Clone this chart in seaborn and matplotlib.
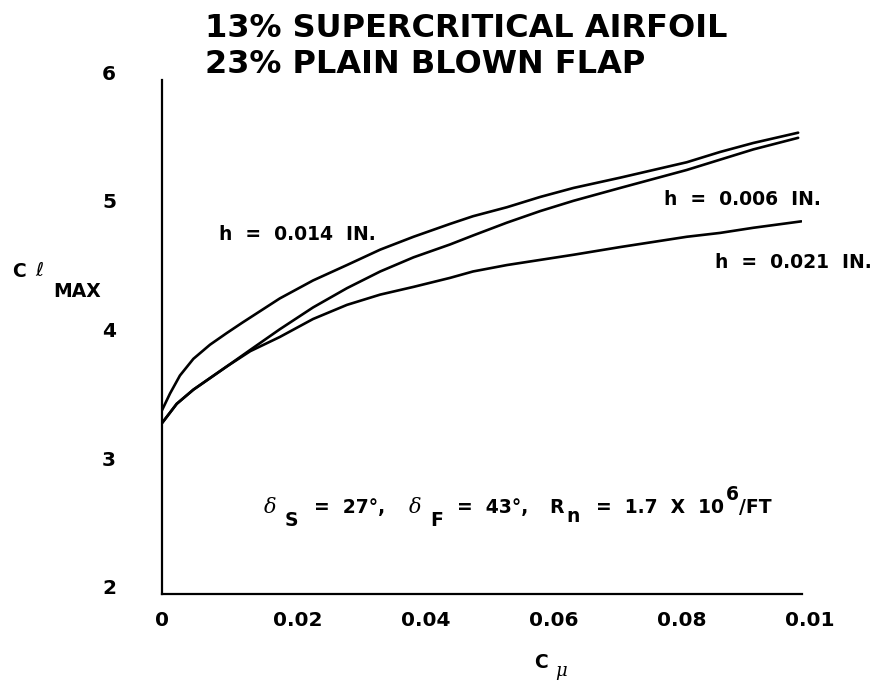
import numpy as np
import pandas as pd
import matplotlib
matplotlib.use("Agg")
import matplotlib.pyplot as plt
import matplotlib.transforms as mtrans
import seaborn as sns

# ---- data ----
x_h014 = [0, 0.00125, 0.0028, 0.0049, 0.0075, 0.0101, 0.0125, 0.0184, 0.0236, 0.0289, 0.0341,
          0.0393, 0.045, 0.0486, 0.0539, 0.0591, 0.0643, 0.0716, 0.0768, 0.082, 0.0872, 0.0924, 0.0994]
y_h014 = [3.43, 3.56, 3.70, 3.83, 3.94, 4.03, 4.11, 4.30, 4.44, 4.56, 4.68,
          4.78, 4.88, 4.94, 5.01, 5.09, 5.16, 5.24, 5.30, 5.36, 5.44, 5.51, 5.59]

x_h006 = [0, 0.0023, 0.0049, 0.0075, 0.0101, 0.0138, 0.0184, 0.0236, 0.0289, 0.0341, 0.0393,
          0.045, 0.0486, 0.0539, 0.0591, 0.0643, 0.0716, 0.0768, 0.082, 0.0872, 0.0924, 0.0994]
y_h006 = [3.33, 3.48, 3.59, 3.68, 3.77, 3.90, 4.06, 4.23, 4.38, 4.51, 4.62,
          4.72, 4.79, 4.89, 4.98, 5.06, 5.16, 5.23, 5.30, 5.38, 5.46, 5.55]

x_h021 = [0, 0.0023, 0.0049, 0.0075, 0.0101, 0.0138, 0.0184, 0.0236, 0.0289, 0.0341, 0.0393,
          0.045, 0.0486, 0.0539, 0.0591, 0.0643, 0.0716, 0.0768, 0.082, 0.0872, 0.0924, 0.0999]
y_h021 = [3.33, 3.48, 3.59, 3.68, 3.77, 3.89, 4.00, 4.14, 4.25, 4.33, 4.39,
          4.46, 4.51, 4.56, 4.60, 4.64, 4.70, 4.74, 4.78, 4.81, 4.85, 4.90]

x_ticks = [0, 0.02, 0.04, 0.06, 0.08, 0.1]
x_tick_labels = ["0", "0.02", "0.04", "0.06", "0.08", "0.01"]
y_ticks = [2, 3, 4, 5, 6]
y_tick_labels = ["2", "3", "4", "5", "6"]

title_lines = ["13% SUPERCRITICAL AIRFOIL", "23% PLAIN BLOWN FLAP"]

df = pd.concat([
    pd.DataFrame({"Cmu": x_h014, "Clmax": y_h014, "h": "0.014"}),
    pd.DataFrame({"Cmu": x_h006, "Clmax": y_h006, "h": "0.006"}),
    pd.DataFrame({"Cmu": x_h021, "Clmax": y_h021, "h": "0.021"}),
])

sns.set_theme(style="white")
plt.rcParams["font.family"] = ["DejaVu Sans"]

W, H = 878, 681
fig = plt.figure(figsize=(W / 100, H / 100), dpi=100)
ax = fig.add_axes([162 / W, 1 - 594 / H, (802 - 162) / W, (594 - 80) / H])

sns.lineplot(data=df, x="Cmu", y="Clmax", hue="h", units="h", estimator=None,
             palette={"0.014": "black", "0.006": "black", "0.021": "black"},
             linewidth=1.9, legend=False, ax=ax, sort=False)
for ln in ax.get_lines():
    ln.set_solid_joinstyle("round")
    ln.set_solid_capstyle("round")

ax.set_xlim(0, 0.1)
ax.set_ylim(2, 6)
for s in ["top", "right"]:
    ax.spines[s].set_visible(False)
for s in ["left", "bottom"]:
    ax.spines[s].set_color("black")
    ax.spines[s].set_linewidth(1.6)

ax.set_xticks(x_ticks)
ax.set_xticklabels(x_tick_labels, fontsize=14.5, fontweight="bold")
ax.set_yticks(y_ticks)
ax.set_yticklabels(y_tick_labels, fontsize=14.5, fontweight="bold", va="baseline")
ax.tick_params(axis="both", direction="in", length=4, width=1.2, color="black", labelcolor="black")
ax.tick_params(axis="x", pad=12)
ax.tick_params(axis="y", pad=33)
ax.set_xlabel("")
ax.set_ylabel("")

# shift "0.0x" tick labels slightly right like the reference
for lbl in ax.get_xticklabels()[1:]:
    lbl.set_transform(lbl.get_transform() + mtrans.ScaledTranslation(8 / 100, 0, fig.dpi_scale_trans))


def ftxt(px, py, s, **kw):
    kw.setdefault("color", "black")
    return fig.text(px / W, 1 - py / H, s, **kw)

# title
ftxt(205, 37, title_lines[0], fontsize=23, fontweight="bold", ha="left", va="baseline")
ftxt(205, 73, title_lines[1], fontsize=23, fontweight="bold", ha="left", va="baseline")

# y label  C ℓ MAX
ftxt(12, 277, "C", fontsize=13.5, fontweight="bold", ha="left", va="baseline")
ftxt(35, 276, r"$\ell$", fontsize=14, ha="left", va="baseline")
ftxt(53, 297, "MAX", fontsize=13.5, fontweight="bold", ha="left", va="baseline")

# x label  C μ
ftxt(534, 668, "C", fontsize=13.5, fontweight="bold", ha="left", va="baseline")
ftxt(555, 676, "μ", fontsize=13, family="DejaVu Serif", style="italic", ha="left", va="baseline")

# curve labels
ftxt(297, 240, "h  =  0.014  IN.", fontsize=13.5, fontweight="bold", ha="center", va="baseline")
ftxt(742, 205, "h  =  0.006  IN.", fontsize=13.5, fontweight="bold", ha="center", va="baseline")
ftxt(793, 268, "h  =  0.021  IN.", fontsize=13.5, fontweight="bold", ha="center", va="baseline")

# condition annotation
fs = 13.5
ftxt(264, 513, "δ", fontsize=15, family="DejaVu Serif", style="italic", ha="left", va="baseline")
ftxt(285, 526, "S", fontsize=fs, fontweight="bold", ha="left", va="baseline")
ftxt(314, 513, "=  27°,", fontsize=fs, fontweight="bold", ha="left", va="baseline")
ftxt(409, 513, "δ", fontsize=15, family="DejaVu Serif", style="italic", ha="left", va="baseline")
ftxt(430, 526, "F", fontsize=fs, fontweight="bold", ha="left", va="baseline")
ftxt(457, 513, "=  43°,", fontsize=fs, fontweight="bold", ha="left", va="baseline")
ftxt(549, 513, "R", fontsize=fs, fontweight="bold", ha="left", va="baseline")
ftxt(566, 522, "n", fontsize=fs, fontweight="bold", ha="left", va="baseline")
ftxt(596, 513, "=  1.7  X  10", fontsize=fs, fontweight="bold", ha="left", va="baseline")
ftxt(726, 500, "6", fontsize=fs, fontweight="bold", ha="left", va="baseline")
ftxt(739, 513, "/FT", fontsize=fs, fontweight="bold", ha="left", va="baseline")

fig.savefig("out.png", dpi=100, facecolor="white")
